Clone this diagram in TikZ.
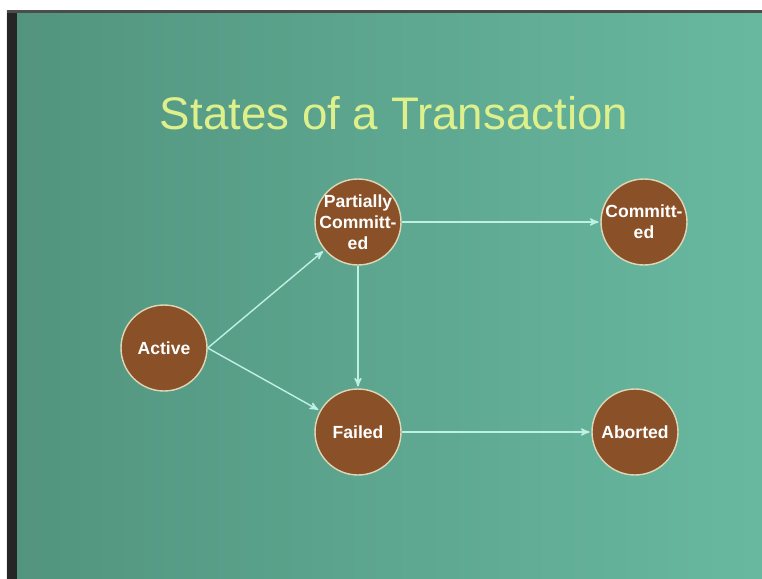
\documentclass[tikz,border=0pt]{standalone}
\usepackage{fontspec}
\setmainfont{Liberation Sans}
\usepackage{tikz}
\usetikzlibrary{arrows}
\definecolor{slidegreenL}{RGB}{82,148,126}
\definecolor{slidegreenR}{RGB}{104,184,160}
\definecolor{statebrown}{RGB}{138,80,40}
\definecolor{stateedge}{RGB}{222,214,180}
\definecolor{linkcyan}{RGB}{190,240,228}
\definecolor{titleyellow}{RGB}{222,240,140}
\tikzset{
>=stealth',
  statenode/.style={
    circle,
    fill=statebrown,
    draw=stateedge, thick,
    minimum size=1.72cm,
    inner sep=-10pt,
    text=white,
    font=\bfseries\fontsize{10}{12}\selectfont,
    align=center},
  link/.style={draw=linkcyan, thick, ->, shorten >=1pt},
}

\begin{document}
\begin{tikzpicture}[x=0.02cm, y=-0.02cm]
     \useasboundingbox (0,0) rectangle (762,579);
     % slide background
     \fill[white] (0,0) rectangle (762,579);
     \shade[left color=slidegreenL, right color=slidegreenR] (7,10) rectangle (762,579);
     \fill[black!85] (7,10) rectangle (17,579);
     \fill[black!70] (7,10) rectangle (762,13);
     \node[text=titleyellow, font=\fontsize{26}{30}\selectfont] (Title) at (394,113) {States of a Transaction};
     % states
     \node[statenode] (Active)    at (164,348) {Active};
     \node[statenode] (Partially) at (358,222) {Partially\\Committ-\\ed};
     \node[statenode] (Committed) at (644,222) {Committ-\\ed};
     \node[statenode] (Failed)    at (358,432) {Failed};
     \node[statenode] (Aborted)   at (635,432) {Aborted};
     \draw[link] (Active.east) -- (Partially);
     \draw[link] (Active.east) -- (Failed);
     \draw[link] (Partially) -- (Committed);
     \draw[link] (Partially) -- (Failed);
     \draw[link] (Failed) -- (Aborted);
\end{tikzpicture}
\end{document}
